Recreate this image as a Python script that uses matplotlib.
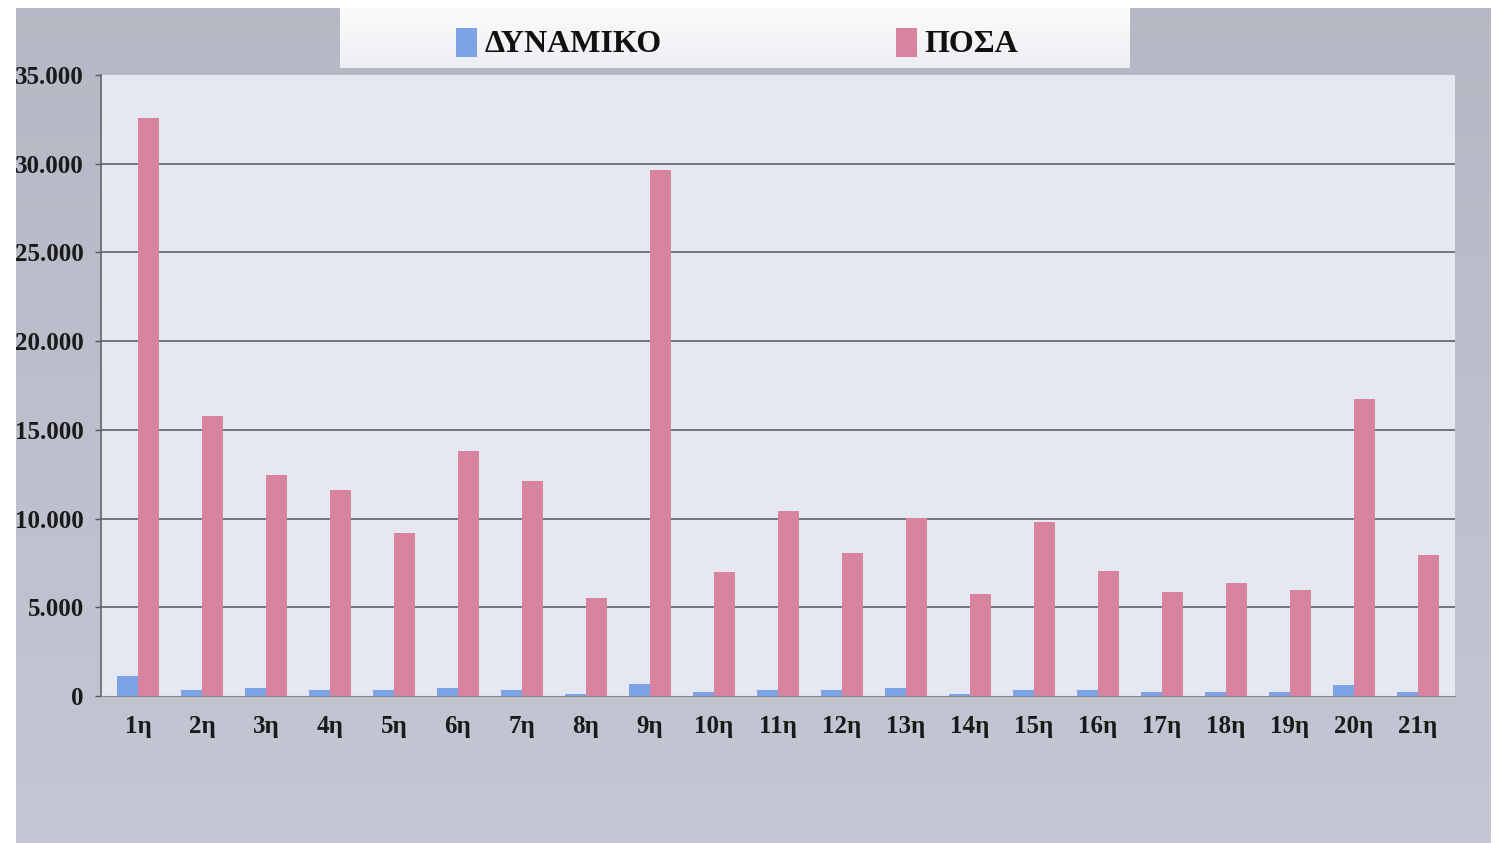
import matplotlib
matplotlib.use("Agg")
import matplotlib.pyplot as plt
import numpy as np
from matplotlib.patches import Rectangle

categories = ["1η", "2η", "3η", "4η", "5η", "6η", "7η", "8η", "9η", "10η", "11η",
              "12η", "13η", "14η", "15η", "16η", "17η", "18η", "19η", "20η", "21η"]
dynamiko = [1130, 360, 450, 360, 350, 450, 360, 100, 700, 200, 360,
            360, 450, 100, 350, 360, 200, 200, 200, 600, 200]
posa = [32600, 15780, 12460, 11610, 9190, 13810, 12120, 5520, 29650, 6990, 10430,
        8060, 10030, 5750, 9810, 7050, 5860, 6370, 5980, 16740, 7950]
y_ticks = [0, 5000, 10000, 15000, 20000, 25000, 30000, 35000]
y_tick_labels = ["0", "5.000", "10.000", "15.000", "20.000", "25.000", "30.000", "35.000"]
series_names = ["ΔΥΝΑΜΙΚΟ", "ΠΟΣΑ"]

W, H = 1494, 843
fig = plt.figure(figsize=(W / 100, H / 100), dpi=100)
fig.patch.set_facecolor("white")

# background grey panel with gradient
bg = fig.add_axes([0, 0, 1, 1], zorder=0)
bg.axis("off")
grad = np.linspace(0, 1, 256).reshape(-1, 1)
c_top = np.array([0.71, 0.725, 0.77])
c_bot = np.array([0.765, 0.78, 0.83])
img = c_top + (c_bot - c_top) * grad[..., None]
bg.imshow(img, extent=[16, 1491, 843, 8], aspect="auto", interpolation="bilinear")

# legend box
lg_grad = np.linspace(0, 1, 64).reshape(-1, 1)
lc_top = np.array([0.985, 0.985, 0.99])
lc_bot = np.array([0.93, 0.935, 0.95])
limg = lc_top + (lc_bot - lc_top) * lg_grad[..., None]
bg.imshow(limg, extent=[340, 1130, 68, 8], aspect="auto", interpolation="bilinear")
bg.set_xlim(0, W)
bg.set_ylim(H, 0)

blue = "#7ba3e6"
pink = "#d9849f"
font = "Liberation Serif"

bg.add_patch(Rectangle((456, 28), 21, 29, facecolor=blue, edgecolor="none"))
bg.text(485, 44, series_names[0], fontsize=23, fontweight="bold", family=font,
        va="center", ha="left", color="#111111")
bg.add_patch(Rectangle((896, 28), 21, 29, facecolor=pink, edgecolor="none"))
bg.text(924, 44, series_names[1], fontsize=23, fontweight="bold", family=font,
        va="center", ha="left", color="#111111")

# main axes
left, right, top, bottom = 101, 1455, 75, 696
ax = fig.add_axes([left / W, (H - bottom) / H, (right - left) / W, (bottom - top) / H], zorder=1)
ax.set_facecolor("#e5e7f1")
x = np.arange(len(categories))
bw = 0.33
ax.bar(x - bw / 2, dynamiko, width=bw, color=blue, zorder=3)
ax.bar(x + bw / 2, posa, width=bw, color=pink, zorder=3)

ax.set_xlim(-0.578, 20.58)
ax.set_ylim(0, 35000)
ax.set_yticks(y_ticks)
ax.set_yticklabels(y_tick_labels, fontsize=18, fontweight="bold", family=font, color="#1a1a1a")
ax.set_xticks(x)
ax.set_xticklabels(categories, fontsize=18, fontweight="bold", family=font, color="#1a1a1a")
ax.tick_params(axis="x", length=0, pad=14)
ax.tick_params(axis="y", length=4.5, width=1, color="#555555", pad=8)
for yv in y_ticks[1:-1]:
    ax.axhline(yv, color="#555555", lw=1.1, zorder=1)
for s in ["top", "right"]:
    ax.spines[s].set_visible(False)
ax.spines["left"].set_color("#666666")
ax.spines["bottom"].set_color("#888888")
ax.spines["left"].set_linewidth(1.2)

fig.savefig("out.png", dpi=100)
